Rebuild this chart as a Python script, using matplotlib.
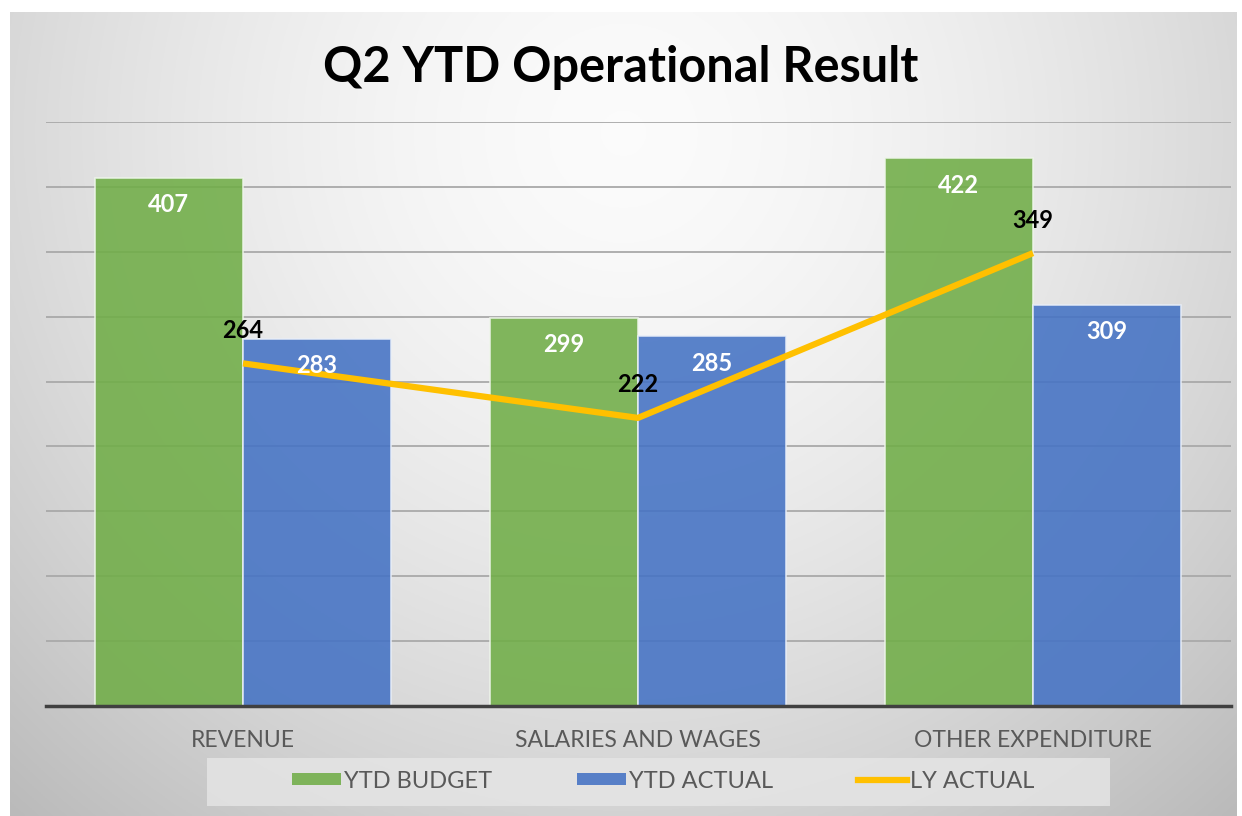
import numpy as np
import matplotlib
matplotlib.use("Agg")
import matplotlib.pyplot as plt
from matplotlib.patches import Patch, Rectangle
from matplotlib.lines import Line2D

categories = ["REVENUE", "SALARIES AND WAGES", "OTHER EXPENDITURE"]
ytd_budget = [407, 299, 422]
ytd_actual = [283, 285, 309]
ly_actual = [264, 222, 349]
series_names = ["YTD BUDGET", "YTD ACTUAL", "LY ACTUAL"]
title = "Q2 YTD Operational Result"

plt.rcParams['font.family'] = ['Lato', 'DejaVu Sans']

W, H = 1242, 816
fig = plt.figure(figsize=(W / 100, H / 100), dpi=100)
fig.patch.set_facecolor("white")

# background gradient panel
bg = fig.add_axes([10 / W, 0, (1237 - 10) / W, (H - 12) / H])
bg.set_axis_off()
yy, xx = np.mgrid[0:1:400j, 0:1:600j]
r = np.sqrt(((xx - 0.5) / 0.62) ** 2 + ((yy - 0.15) / 0.95) ** 2)
val = 0.985 - 0.19 * np.clip(r, 0, 1.2) ** 1.6
img = np.dstack([val, val, val])
bg.imshow(img, aspect="auto", extent=[0, 1, 0, 1], origin="upper")
bg.set_xlim(0, 1)
bg.set_ylim(0, 1)

# legend background box
fig.patches.append(Rectangle((207 / W, 1 - 806 / H), (1110 - 207) / W, 48 / H,
                             transform=fig.transFigure, facecolor="#e6e6e6",
                             alpha=0.8, edgecolor="none", zorder=1))

ax = fig.add_axes([45.5 / W, (H - 706) / H, 1185 / W, 584 / H])
ax.set_facecolor("none")
x = np.arange(len(categories))
w = 0.375
b1 = ax.bar(x - w / 2, ytd_budget, w, color="#70AD47", alpha=0.88,
            edgecolor="#eef5ea", linewidth=1.2, zorder=2)
b2 = ax.bar(x + w / 2, ytd_actual, w, color="#4472C4", alpha=0.88,
            edgecolor="#e8eef8", linewidth=1.2, zorder=2)
ax.plot(x, ly_actual, color="#FFC000", lw=4.5, zorder=3, solid_capstyle="butt")

for rect, v in list(zip(b1, ytd_budget)) + list(zip(b2, ytd_actual)):
    ax.annotate(str(v), (rect.get_x() + rect.get_width() / 2, v),
                xytext=(0, -27), textcoords="offset pixels",
                ha="center", va="center", color="white",
                fontsize=17, fontweight="bold", zorder=5)
for xi, v in zip(x, ly_actual):
    ax.annotate(str(v), (xi, v), xytext=(0, 33), textcoords="offset pixels",
                ha="center", va="center", color="black",
                fontsize=17, fontweight="bold", zorder=5)

ax.set_xlim(-0.5, 2.5)
ax.set_ylim(0, 450)
ax.set_yticks(np.arange(0, 451, 50))
ax.yaxis.grid(True, color="#a9a9a9", lw=1.3, zorder=0)
ax.set_axisbelow(True)
ax.tick_params(axis="y", left=False, labelleft=False)
ax.tick_params(axis="x", bottom=False, pad=14)
ax.set_xticks(x)
ax.set_xticklabels(categories, fontsize=16.5, color="#595959")
for s in ["top", "right", "left"]:
    ax.spines[s].set_visible(False)
ax.spines["bottom"].set_color("#404040")
ax.spines["bottom"].set_linewidth(2.5)
ax.spines["bottom"].set_zorder(4)

fig.text(0.5, 1 - 67 / H, title, ha="center", va="center",
         fontsize=35, fontweight="bold", color="black")

handles = [Patch(facecolor="#70AD47", alpha=0.88, edgecolor="none"),
           Patch(facecolor="#4472C4", alpha=0.88, edgecolor="none"),
           Line2D([], [], color="#FFC000", lw=4.5)]
leg = fig.legend(handles, series_names, loc="center", ncol=3,
                 bbox_to_anchor=(663 / W, 1 - 781 / H),
                 fontsize=17, frameon=False,
                 handlelength=2.1, handleheight=0.45, handletextpad=0.1,
                 columnspacing=3.6, borderpad=0.3)
for t in leg.get_texts():
    t.set_color("#595959")

fig.savefig("out.png", dpi=100)
